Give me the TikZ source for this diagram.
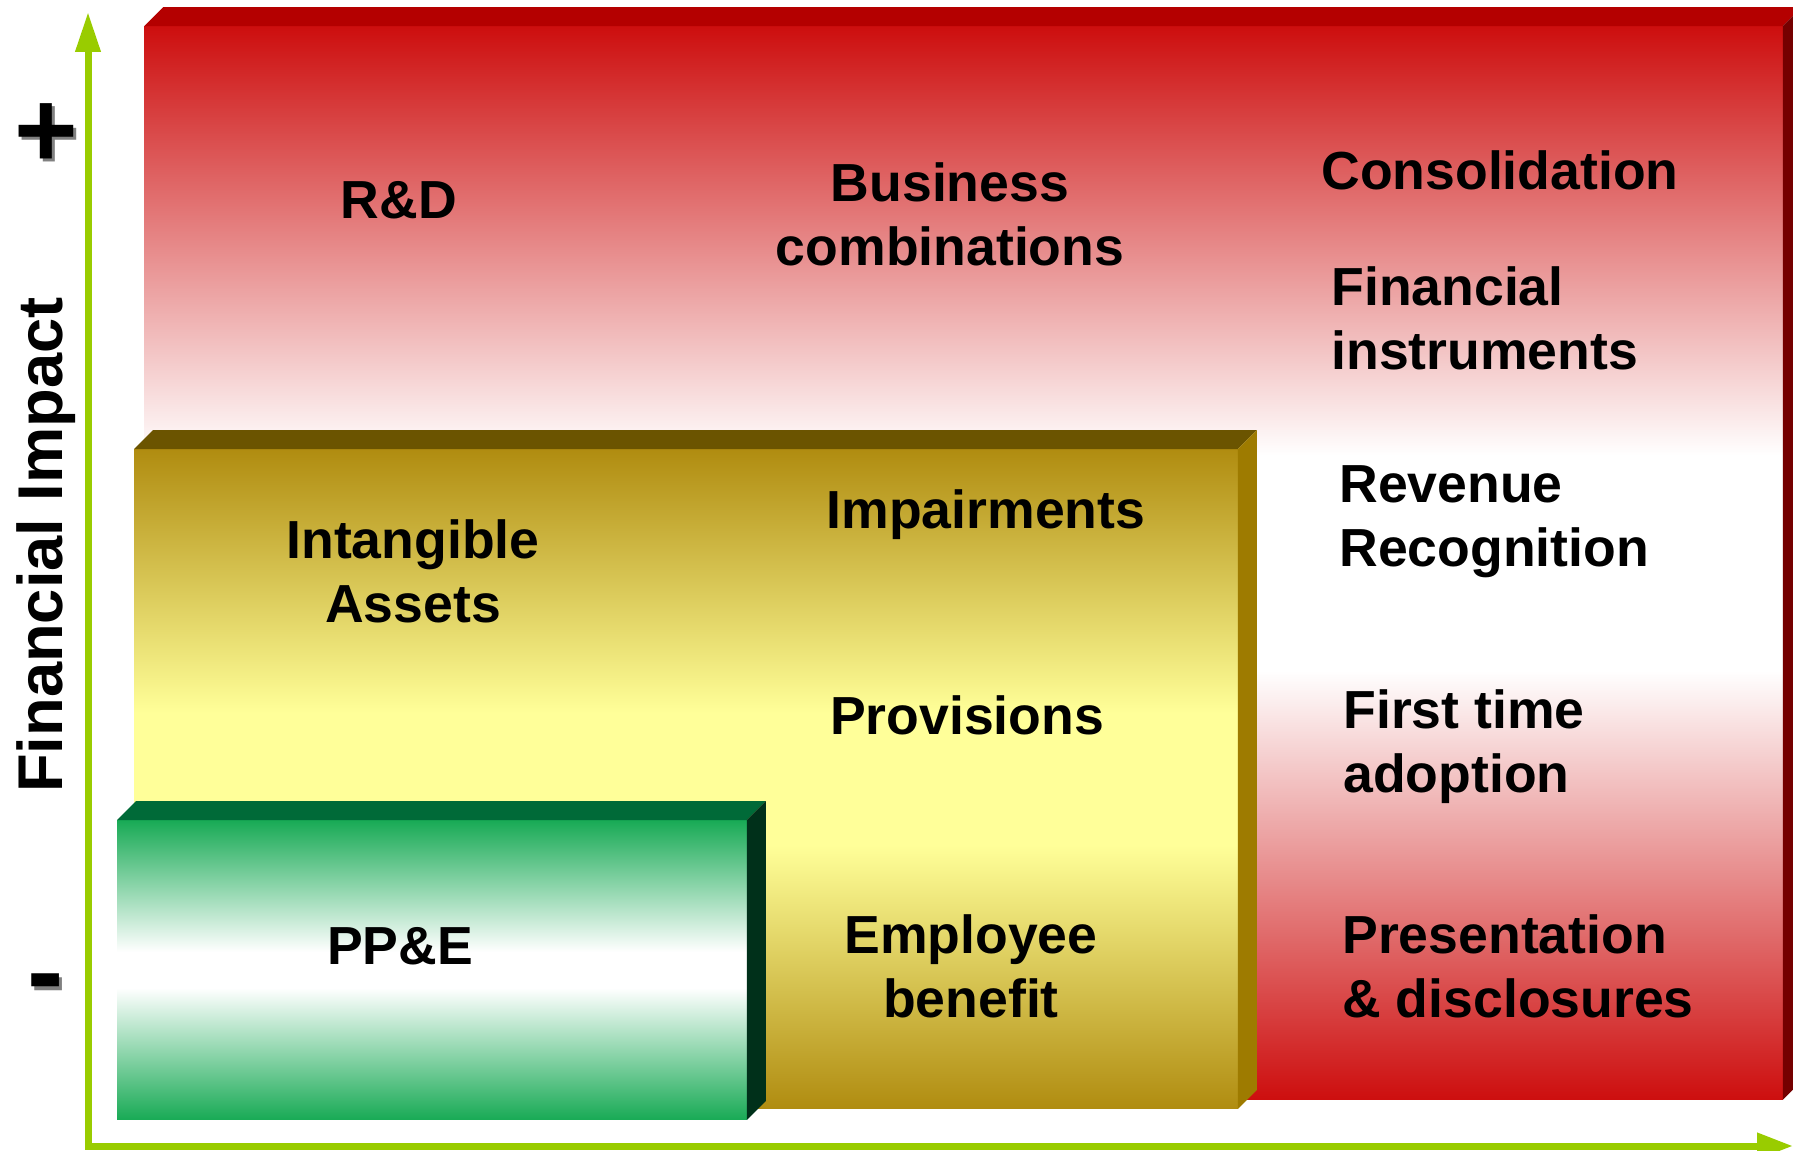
\documentclass[tikz,border=0pt]{standalone}
\usepackage{fontspec}
\setmainfont{Liberation Sans}
\usetikzlibrary{arrows.meta, calc}

\definecolor{axisGreen}{RGB}{153,204,0}
\definecolor{redDeep}{RGB}{205,14,14}
\definecolor{redTopFace}{RGB}{180,0,0}
\definecolor{redSideFace}{RGB}{117,0,0}
\definecolor{goldDeep}{RGB}{176,140,16}
\definecolor{goldLight}{RGB}{255,255,153}
\definecolor{goldTopFace}{RGB}{107,84,0}
\definecolor{goldSideFace}{RGB}{158,123,0}
\definecolor{greenDeep}{RGB}{24,170,85}
\definecolor{greenTopFace}{RGB}{0,106,56}
\definecolor{greenSideFace}{RGB}{0,48,26}

\pgfdeclareverticalshading{redFade}{100bp}{color(0bp)=(redDeep); color(25bp)=(redDeep);
  color(45bp)=(white); color(55bp)=(white); color(75bp)=(redDeep); color(100bp)=(redDeep)}
\pgfdeclareverticalshading{goldFade}{100bp}{color(0bp)=(goldDeep); color(25bp)=(goldDeep);
  color(45bp)=(goldLight); color(55bp)=(goldLight); color(75bp)=(goldDeep); color(100bp)=(goldDeep)}
\pgfdeclareverticalshading{greenFade}{100bp}{color(0bp)=(greenDeep); color(25bp)=(greenDeep);
  color(47bp)=(white); color(53bp)=(white); color(75bp)=(greenDeep); color(100bp)=(greenDeep)}

\tikzstyle{redBlock}   = [rectangle,
                          inner sep=0pt,
                          outer sep=0pt,
                          minimum width=32.78cm,
                          minimum height=21.48cm,
                          shading=redFade]
\tikzstyle{goldBlock}  = [rectangle,
                          inner sep=0pt,
                          outer sep=0pt,
                          minimum width=22.08cm,
                          minimum height=13.2cm,
                          shading=goldFade]
\tikzstyle{greenBlock} = [rectangle,
                          inner sep=0pt,
                          outer sep=0pt,
                          minimum width=12.6cm,
                          minimum height=6cm,
                          shading=greenFade]
\tikzstyle{topic}      = [inner sep=0pt,
                          text=black,
                          font=\fontsize{30.5}{36.5}\selectfont\bfseries]
\tikzstyle{axisTitle}  = [inner sep=0pt,
                          text=black,
                          font=\fontsize{36}{40}\selectfont\bfseries]
\tikzstyle{signMark}   = [inner sep=0pt,
                          font=\fontsize{62}{62}\selectfont\bfseries]
\tikzstyle{axis}       = [line width=0.14cm, draw=axisGreen,
                          {Triangle[length=0.8cm, width=0.48cm]}-{Triangle[length=0.72cm, width=0.5cm]}]

\begin{document}
\begin{tikzpicture}[x=0.02cm, y=-0.02cm]
\useasboundingbox (0,0) rectangle (1793,1151);

% red block
\node [redBlock] (redFace) at (963.5,563) {};
\fill [redTopFace] (redFace.north west) -- ++(19,-19) -- ([shift={(19,-19)}] redFace.north east) -- (redFace.north east) -- cycle;
\fill [redSideFace] (redFace.north east) -- ++(19,-19) -- ([shift={(19,-19)}] redFace.south east) -- (redFace.south east) -- cycle;

% gold block
\node [goldBlock] (goldFace) at (686,779) {};
\fill [goldTopFace] (goldFace.north west) -- ++(19,-19) -- ([shift={(19,-19)}] goldFace.north east) -- (goldFace.north east) -- cycle;
\fill [goldSideFace] (goldFace.north east) -- ++(19,-19) -- ([shift={(19,-19)}] goldFace.south east) -- (goldFace.south east) -- cycle;

% green block
\node [greenBlock] (greenFace) at (432,970) {};
\fill [greenTopFace] (greenFace.north west) -- ++(19,-19) -- ([shift={(19,-19)}] greenFace.north east) -- (greenFace.north east) -- cycle;
\fill [greenSideFace] (greenFace.north east) -- ++(19,-19) -- ([shift={(19,-19)}] greenFace.south east) -- (greenFace.south east) -- cycle;

% axes
\coordinate (yTip)   at (88,12);
\coordinate (origin) at (88,1146);
\coordinate (xTip)   at (1793,1146);
\draw [axis] (yTip) -- (origin) -- (xTip);

\node [axisTitle, rotate=90] (impact) at (46,545) {Financial Impact};
\node [signMark, text=gray, anchor=base] (plusShadow)  at (49,171) {+};
\node [signMark, anchor=base]            (plus)        at (46,168) {+};
\node [signMark, text=gray, anchor=base] (minusShadow) at (49,1012) {-};
\node [signMark, anchor=base]            (minus)       at (46,1009) {-};

% topics
\node [topic] (rnd) at (399,200) {R\&D};
\node [topic, align=center] (business) at (950,214) {Business\\combinations};
\node [topic, anchor=base west] (consolidation) at (1321,190) {Consolidation};
\node [topic, align=left, anchor=west] (instruments) at (1331,318) {Financial\\instruments};
\node [topic, align=left, anchor=west] (revenue) at (1339,522) {Revenue\\Recognition};
\node [topic, align=left, anchor=west] (adoption) at (1343,747) {First time\\adoption};
\node [topic, align=left, anchor=west] (disclosures) at (1342,966) {Presentation\\\& disclosures};

\node [topic, align=center] (intangibles) at (413,571) {Intangible\\Assets};
\node [topic, anchor=base] (impairments) at (986,529) {Impairments};
\node [topic, anchor=base] (provisions) at (967,735) {Provisions};
\node [topic, align=center] (employee) at (971,966) {Employee\\benefit};

\node [topic, anchor=base] (ppe) at (400,965) {PP\&E};
\end{tikzpicture}
\end{document}
